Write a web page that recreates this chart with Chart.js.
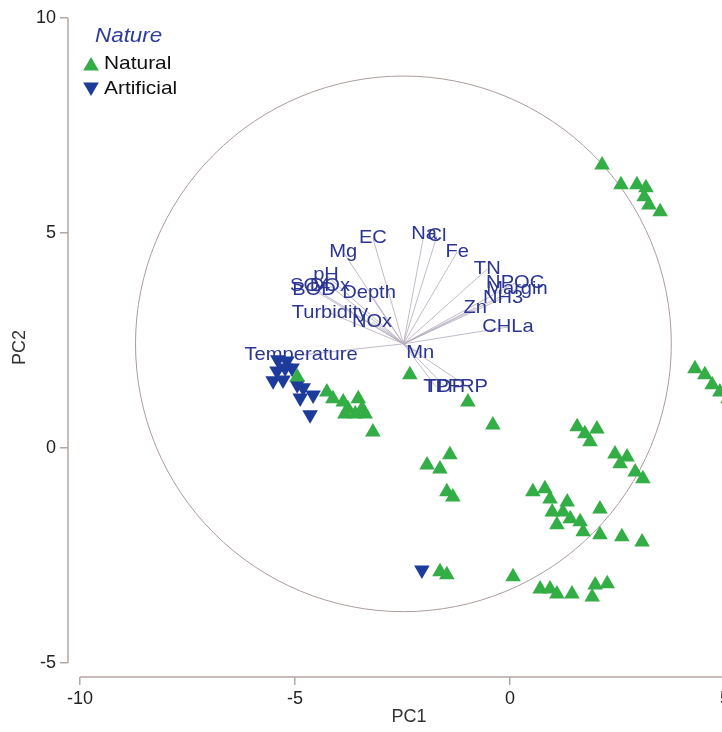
<!DOCTYPE html>
<html>
<head>
<meta charset="utf-8">
<script src="https://cdn.jsdelivr.net/npm/chart.js@4.4.1/dist/chart.umd.min.js"></script>
<style>
  html, body { margin: 0; padding: 0; background: #fff; overflow: hidden; }
  #wrap { width: 722px; height: 732px; overflow: hidden; }
</style>
</head>
<body>
<div id="wrap"><canvas id="pca" width="760" height="732" style="width:760px;height:732px"></canvas></div>
<script>
// sample scores (PC1, PC2)
const naturalX = [2.14, 2.58, 2.95, 3.16, 3.12, 3.23, 3.49,
  4.30, 4.53, 4.70, 4.88, 5.07,
  -2.33, -0.98, -0.40,
  -4.95, -4.26, -4.12, -3.88, -3.77, -3.53, -3.44, -3.84, -3.60, -3.37, -3.19,
  -1.93, -1.63, -1.40, -1.47, -1.33,
  -1.63, -1.47, 0.07,
  1.56, 1.74, 2.02, 1.86, 2.44, 2.72, 2.56, 2.91, 3.09,
  0.53, 0.81, 0.93, 1.33, 0.98, 1.23, 1.09, 1.40, 1.63, 1.70, 2.09, 2.09, 2.60, 3.07,
  0.70, 0.93, 1.09, 1.44, 1.98, 1.91, 2.26];
const naturalY = [6.58, 6.12, 6.12, 6.05, 5.84, 5.65, 5.49,
  1.84, 1.70, 1.47, 1.30, 1.14,
  1.70, 1.07, 0.53,
  1.65, 1.30, 1.14, 1.07, 0.91, 1.14, 0.91, 0.79, 0.79, 0.79, 0.37,
  -0.40, -0.49, -0.16, -1.02, -1.14,
  -2.88, -2.95, -3.00,
  0.49, 0.33, 0.44, 0.14, -0.14, -0.21, -0.37, -0.56, -0.72,
  -1.02, -0.95, -1.19, -1.26, -1.49, -1.49, -1.79, -1.65, -1.72, -1.95, -1.42, -2.02, -2.07, -2.19,
  -3.28, -3.28, -3.40, -3.40, -3.19, -3.47, -3.16];
const artificialX = [-5.40, -5.19, -5.42, -5.23, -5.51, -5.28, -5.07, -4.95, -4.81, -4.88, -4.58, -4.65, -2.05];
const artificialY = [2.05, 2.02, 1.79, 1.86, 1.56, 1.58, 1.86, 1.47, 1.40, 1.16, 1.23, 0.77, -2.84];

// variable vectors (end points in score units)
const varNames = ['EC', 'Mg', 'Na', 'Cl', 'Fe', 'TN', 'NPOC', 'Margin', 'NH3', 'Zn', 'CHLa',
  'Depth', 'pH', 'SO4', 'BOD', 'DOx', 'Turbidity', 'NOx', 'Mn', 'Temperature', 'TP', 'TDP', 'FRP'];
const varX = [-3.19, -3.88, -2.00, -1.70, -1.23, -0.53, 0.12, 0.16, -0.16, -0.81, -0.05,
  -3.28, -4.28, -4.65, -4.56, -4.19, -4.19, -3.21, -2.09, -4.86, -1.72, -1.51, -0.98];
const varY = [4.88, 4.56, 4.98, 4.93, 4.56, 4.16, 3.84, 3.70, 3.49, 3.26, 2.81,
  3.60, 4.02, 3.77, 3.67, 3.77, 3.14, 2.93, 2.21, 2.16, 1.42, 1.42, 1.42];
const vecOrigin = [-2.48, 2.42];
const circleRadius = 6.23;

const xTicks = [-10, -5, 0, 5];
const yTicks = [-5, 0, 5, 10];

const green = '#33ad45';
const blue = '#1d3b9b';
const labelBlue = '#2b3592';
const axisGrey = '#b4a6a2';
const family = '"Liberation Sans", Arial, sans-serif';

function toPoints(xs, ys) {
  return xs.map((x, i) => ({ x: x, y: ys[i] }));
}

// text is a bit wide in the original, so stretch it
function wideText(ctx, text, x, y, sx) {
  ctx.save();
  ctx.translate(x, y);
  ctx.scale(sx, 1);
  ctx.fillText(text, 0, 0);
  ctx.restore();
}

function triangle(ctx, x, y, r, down, color) {
  const d = down ? -1 : 1;
  ctx.fillStyle = color;
  ctx.beginPath();
  ctx.moveTo(x, y - d * r);
  ctx.lineTo(x + r * 0.866, y + d * r / 2);
  ctx.lineTo(x - r * 0.866, y + d * r / 2);
  ctx.closePath();
  ctx.fill();
}

const biplot = {
  id: 'biplot',
  beforeDatasetsDraw(chart) {
    const ctx = chart.ctx;
    const xs = chart.scales.x, ys = chart.scales.y;
    const area = chart.chartArea;
    const cx = xs.getPixelForValue(vecOrigin[0]);
    const cy = ys.getPixelForValue(vecOrigin[1]);
    ctx.save();

    // axis lines, only between the end ticks like the original
    ctx.strokeStyle = axisGrey;
    ctx.lineWidth = 1.5;
    ctx.beginPath();
    ctx.moveTo(area.left, ys.getPixelForValue(yTicks[yTicks.length - 1]));
    ctx.lineTo(area.left, ys.getPixelForValue(yTicks[0]));
    ctx.moveTo(xs.getPixelForValue(xTicks[0]), area.bottom);
    ctx.lineTo(area.right, area.bottom);
    ctx.stroke();

    // correlation circle
    ctx.strokeStyle = '#ab9c9a';
    ctx.lineWidth = 1;
    ctx.beginPath();
    ctx.ellipse(cx, cy,
      Math.abs(xs.getPixelForValue(vecOrigin[0] + circleRadius) - cx),
      Math.abs(ys.getPixelForValue(vecOrigin[1] + circleRadius) - cy),
      0, 0, Math.PI * 2);
    ctx.stroke();

    // vectors
    ctx.strokeStyle = '#b3a9bd';
    ctx.lineWidth = 0.8;
    varNames.forEach((n, i) => {
      ctx.beginPath();
      ctx.moveTo(cx, cy);
      ctx.lineTo(xs.getPixelForValue(varX[i]), ys.getPixelForValue(varY[i]));
      ctx.stroke();
    });

    // labels
    ctx.fillStyle = labelBlue;
    ctx.font = '19px ' + family;
    ctx.textAlign = 'center';
    ctx.textBaseline = 'middle';
    varNames.forEach((n, i) => {
      wideText(ctx, n, xs.getPixelForValue(varX[i]), ys.getPixelForValue(varY[i]), 1.06);
    });
    ctx.restore();
  },
  afterDraw(chart) {
    const ctx = chart.ctx;
    ctx.save();
    ctx.textAlign = 'left';
    ctx.textBaseline = 'middle';
    ctx.fillStyle = '#2f3c9e';
    ctx.font = 'italic 20px ' + family;
    wideText(ctx, 'Nature', 95, 36, 1.12);
    const rows = [
      { label: chart.data.datasets[0].label, color: green, down: false },
      { label: chart.data.datasets[1].label, color: blue, down: true }
    ];
    ctx.font = '19px ' + family;
    rows.forEach((r, i) => {
      const y = 64 + i * 25;
      triangle(ctx, 91, y + (r.down ? -2 : 2), 9, r.down, r.color);
      ctx.fillStyle = '#111';
      wideText(ctx, r.label, 104, y, 1.1);
    });
    ctx.restore();
  }
};

new Chart(document.getElementById('pca'), {
  type: 'scatter',
  data: {
    datasets: [
      {
        label: 'Natural',
        data: toPoints(naturalX, naturalY),
        pointStyle: 'triangle',
        pointRadius: 9,
        pointHoverRadius: 9,
        backgroundColor: green,
        borderColor: green,
        borderWidth: 0
      },
      {
        label: 'Artificial',
        data: toPoints(artificialX, artificialY),
        pointStyle: 'triangle',
        rotation: 180,
        pointRadius: 9,
        pointHoverRadius: 9,
        backgroundColor: blue,
        borderColor: blue,
        borderWidth: 0
      }
    ]
  },
  options: {
    responsive: false,
    animation: false,
    devicePixelRatio: 1,
    layout: { padding: { top: 18, right: 10, left: 0, bottom: 0 } },
    plugins: {
      legend: { display: false },
      tooltip: { enabled: false }
    },
    scales: {
      x: {
        type: 'linear',
        min: -10.28,
        max: 5.58,
        afterBuildTicks: s => { s.ticks = xTicks.map(v => ({ value: v })); },
        afterFit: s => { s.height = 55; },
        grid: { drawOnChartArea: false, tickLength: 8, color: axisGrey, lineWidth: 1.5 },
        border: { display: false },
        ticks: { font: { size: 18, family: family }, color: '#222', padding: 3, maxRotation: 0 },
        title: { display: true, text: 'PC1', font: { size: 18, family: family }, color: '#333', padding: { top: 0, bottom: 4 } }
      },
      y: {
        type: 'linear',
        min: -5.33,
        max: 10,
        afterBuildTicks: s => { s.ticks = yTicks.map(v => ({ value: v })); },
        afterFit: s => { s.width = 68; },
        grid: { drawOnChartArea: false, tickLength: 8, color: axisGrey, lineWidth: 1.5 },
        border: { display: false },
        ticks: { font: { size: 18, family: family }, color: '#222', padding: 4 },
        title: { display: true, text: 'PC2', font: { size: 18, family: family }, color: '#333', padding: { top: 9, bottom: 0 } }
      }
    }
  },
  plugins: [biplot]
});
</script>
</body>
</html>
